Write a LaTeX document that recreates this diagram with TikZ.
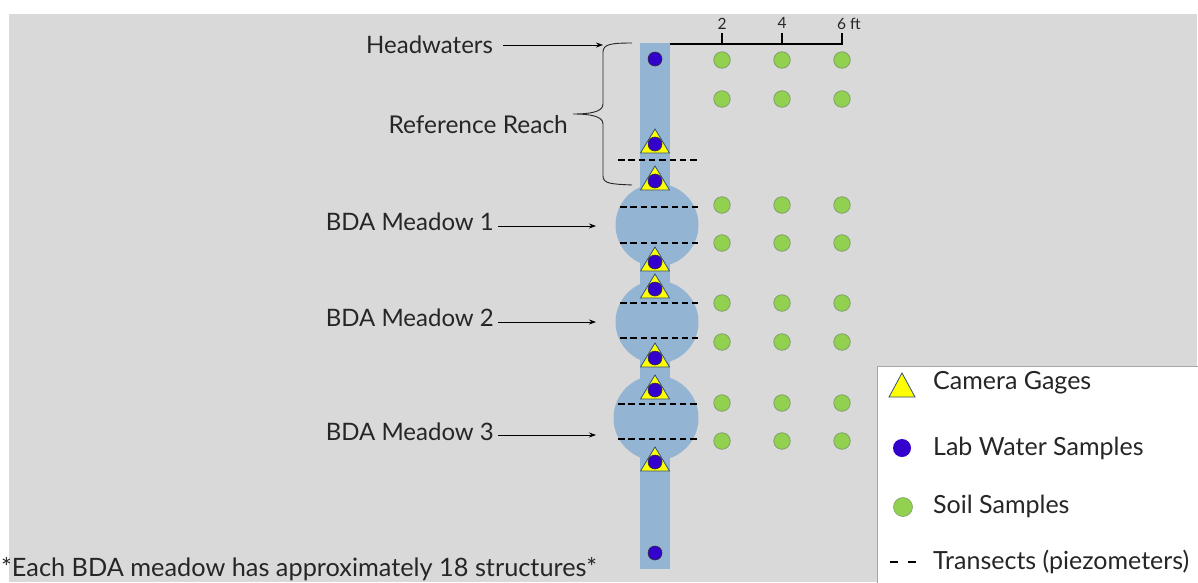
\documentclass[tikz,border=0pt]{standalone}
\usepackage{fontspec}
\setmainfont{Lato}
\usetikzlibrary{arrows.meta}
\definecolor{bg}{HTML}{D9D9D9}
\definecolor{river}{HTML}{93B5D3}
\definecolor{gagey}{HTML}{FFFF00}
\definecolor{gageline}{HTML}{2F4F7F}
\definecolor{labblue}{HTML}{3300CC}
\definecolor{soilg}{HTML}{92D050}
\definecolor{soilline}{HTML}{7F9F6A}
\definecolor{legline}{HTML}{A6A6A6}
\definecolor{txt}{HTML}{262626}
\tikzset{
  x=1pt,y=-1pt,
  lbl/.style={font=\fontsize{24}{26}\selectfont,text=txt,inner sep=0pt},
  leglbl/.style={font=\fontsize{25}{27}\selectfont,text=txt,inner sep=0pt},
  scalelbl/.style={font=\fontsize{15.5}{17}\selectfont,text=txt,inner sep=0pt},
  water/.style={circle,fill=labblue,draw=black!80,line width=0.6pt,minimum size=14pt,inner sep=0pt},
  soil/.style={circle,fill=soilg,draw=soilline,line width=0.8pt,minimum size=16.5pt,inner sep=0pt},
  transect/.style={line width=2.4pt,dash pattern=on 6.5pt off 3.8pt},
  pointer/.style={line width=0.8pt,-{Stealth[length=7pt,width=5pt]}},
}
\newcommand{\gage}[3]{% name, x, y(base)
  \filldraw[fill=gagey,draw=gageline,line width=0.8pt] (#2-14.5,#3) -- (#2,#3-24) -- (#2+14.5,#3) -- cycle;
  \node[water] (#1) at (#2,#3-9) {};
}
\begin{document}
\begin{tikzpicture}
\useasboundingbox (0,0) rectangle (1198,582);
\fill[white] (0,0) rectangle (1198,582);
\fill[bg] (9,14) rectangle (1197,582);
% meadows
\fill[river] (657,225) circle (41.5);
\fill[river] (657,322) circle (41.5);
\fill[river] (656,418) circle (42.5);
% channel
\fill[river] (640,43) rectangle (670,569);
% transects
\draw[transect] (618,160) -- (697,160);
\draw[transect] (620,207) -- (698,207);
\draw[transect] (620,243) -- (698,243);
\draw[transect] (620,303) -- (698,303);
\draw[transect] (620,338) -- (698,338);
\draw[transect] (618,404) -- (697,404);
\draw[transect] (618,439) -- (697,439);
% water samples
\node[water] (w0) at (655,59) {};
\node[water] (w9) at (655,553) {};
% gages
\gage{g1}{655}{153}
\gage{g2}{655}{190}
\gage{g3}{655}{271}
\gage{g4}{655}{298}
\gage{g5}{655}{367}
\gage{g6}{655}{399}
\gage{g7}{655}{471}
% soil samples
\foreach \yy [count=\r] in {60,99,205,243,303,342,403,441}{
  \foreach \xx [count=\c] in {722,782,842}{
    \node[soil] (s\r-\c) at (\xx,\yy) {};
  }
}
% scale bar
\draw[line width=2pt] (670,44) -- (843,44);
\foreach \xx in {722,782,842}{\draw[line width=2pt] (\xx,44) -- (\xx,33);}
\node[scalelbl] (sc2) at (722,24) {2};
\node[scalelbl] (sc4) at (782,23) {4};
\node[scalelbl,anchor=west] (sc6) at (837,24) {6 ft};
% brace
\draw[line width=0.9pt,txt] (632,43) .. controls (612,43) and (603,44) .. (603,52)
  -- (603,104) .. controls (603,112) and (590,114) .. (573,114)
  .. controls (590,114) and (603,116) .. (603,124)
  -- (603,176) .. controls (603,184) and (612,184) .. (632,185);
% labels
\node[lbl,anchor=west] (hw) at (366,45) {Headwaters};
\coordinate (hwend) at (603,45);
\draw[pointer] (hw.east) ++(10,0) -- (hwend);
\node[lbl,anchor=east,font=\fontsize{24.5}{26}\selectfont] (rr) at (568,125) {Reference Reach};
\node[lbl,anchor=east] (m1) at (494,222) {BDA Meadow 1};
\node[lbl,anchor=east] (m2) at (494,318) {BDA Meadow 2};
\node[lbl,anchor=east] (m3) at (494,432) {BDA Meadow 3};
\coordinate (m1e) at (596,226);
\coordinate (m2e) at (596,322);
\coordinate (m3e) at (596,435);
\draw[pointer] (498,226) -- (m1e);
\draw[pointer] (498,322) -- (m2e);
\draw[pointer] (498,435) -- (m3e);
% footnote
\node[leglbl,anchor=base west,font=\fontsize{25.3}{27}\selectfont] (fn) at (1,576) {*Each BDA meadow has approximately 18 structures*};
% legend
\filldraw[fill=white,draw=legline,line width=1pt] (877,366) rectangle (1202,586);
\filldraw[fill=gagey,draw=gageline,line width=0.8pt] (889,397) -- (902,373) -- (915,397) -- cycle;
\node[circle,fill=labblue,minimum size=18pt,inner sep=0pt] (lw) at (902,448) {};
\node[circle,fill=soilg,draw=soilline,line width=0.6pt,minimum size=19pt,inner sep=0pt] (ls) at (903,507) {};
\draw[line width=1.8pt] (890,562) -- (898,562) (908,562) -- (916,562);
\node[leglbl,anchor=west] (l1) at (933,383) {Camera Gages};
\node[leglbl,anchor=west] (l2) at (933,448) {Lab Water Samples};
\node[leglbl,anchor=west] (l3) at (933,506) {Soil Samples};
\node[leglbl,anchor=west] (l4) at (933,562) {Transects (piezometers)};
\end{tikzpicture}
\end{document}
